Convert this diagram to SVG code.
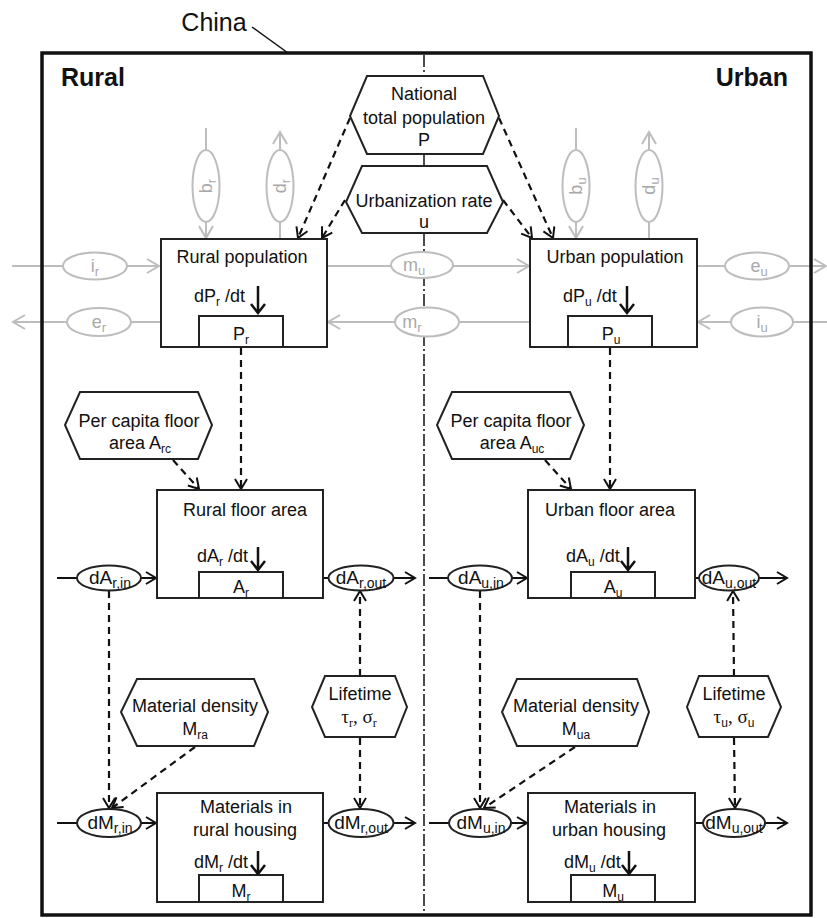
<svg xmlns="http://www.w3.org/2000/svg" width="827" height="918" viewBox="0 0 827 918">
<defs>
<marker id="ah" markerUnits="userSpaceOnUse" markerWidth="14" markerHeight="14" viewBox="0 0 14 14" refX="12" refY="7" orient="auto">
<path d="M2,1 L12,7 L2,13" fill="none" stroke="#111" stroke-width="2"/>
</marker>
<marker id="gah" markerUnits="userSpaceOnUse" markerWidth="16" markerHeight="16" viewBox="0 0 16 16" refX="14" refY="8" orient="auto">
<path d="M2,1 L14,8 L2,15" fill="none" stroke="#bdbdbd" stroke-width="2"/>
</marker>
<style>
.t{font-family:"Liberation Sans",Arial,sans-serif;font-size:18px;fill:#111}
.c{text-anchor:middle}
.s{font-size:12px}
.gk{font-family:"Liberation Serif","Times New Roman",serif;font-size:19px}
.box{fill:#fff;stroke:#222;stroke-width:2}
.hex{fill:#fff;stroke:#222;stroke-width:2}
.ell{fill:#fff;stroke:#222;stroke-width:2}
.gell{fill:#fff;stroke:#bdbdbd;stroke-width:2}
.gt{font-family:"Liberation Sans",Arial,sans-serif;font-size:18px;fill:#aaa;text-anchor:middle}
.gt .s{font-size:13px}
.dash{fill:none;stroke:#111;stroke-width:2.2;stroke-dasharray:7 5;marker-end:url(#ah)}
.flow{fill:none;stroke:#111;stroke-width:2;marker-end:url(#ah)}
.gflow{fill:none;stroke:#bdbdbd;stroke-width:2;marker-end:url(#gah)}
.dn{fill:none;stroke:#111;stroke-width:2.5}
.et{font-family:"Liberation Sans",Arial,sans-serif;font-size:19px;fill:#111;text-anchor:middle}
.es{font-size:14px}
</style>
</defs>
<rect width="827" height="918" fill="#fff"/>

<g id="connectors">
<!-- gray population flows -->
<line class="gflow" x1="12" y1="266" x2="159" y2="266"/>
<line class="gflow" x1="161" y1="322" x2="13" y2="322"/>
<line class="gflow" x1="327" y1="266" x2="529" y2="266"/>
<line class="gflow" x1="530" y1="322" x2="328" y2="322"/>
<line class="gflow" x1="697" y1="266" x2="826" y2="266"/>
<line class="gflow" x1="830" y1="322" x2="698" y2="322"/>
<line class="gflow" x1="206" y1="128" x2="206" y2="238"/>
<line class="gflow" x1="280" y1="239" x2="280" y2="132"/>
<line class="gflow" x1="576" y1="128" x2="576" y2="238"/>
<line class="gflow" x1="649" y1="239" x2="649" y2="132"/>
<!-- black material/floor flows -->
<line class="flow" x1="57" y1="578" x2="156" y2="578"/>
<line class="flow" x1="323" y1="578" x2="415" y2="578"/>
<line class="flow" x1="429" y1="578" x2="527" y2="578"/>
<line class="flow" x1="695" y1="578" x2="787" y2="578"/>
<line class="flow" x1="57" y1="823" x2="156" y2="823"/>
<line class="flow" x1="323" y1="823" x2="415" y2="823"/>
<line class="flow" x1="429" y1="823" x2="527" y2="823"/>
<line class="flow" x1="695" y1="823" x2="787" y2="823"/>
<!-- dashed information links -->
<line class="dash" x1="350" y1="118" x2="298" y2="238"/>
<line class="dash" x1="345" y1="200" x2="322" y2="238"/>
<line class="dash" x1="499" y1="118" x2="553" y2="238"/>
<line class="dash" x1="503" y1="200" x2="532" y2="238"/>
<line class="dash" x1="241" y1="348" x2="241" y2="489"/>
<line class="dash" x1="610" y1="348" x2="610" y2="489"/>
<line class="dash" x1="173" y1="460" x2="199" y2="489"/>
<line class="dash" x1="545" y1="460" x2="571" y2="489"/>
<line class="dash" x1="109" y1="591" x2="109" y2="808"/>
<line class="dash" x1="480" y1="591" x2="480" y2="808"/>
<line class="dash" x1="195" y1="747" x2="112" y2="808"/>
<line class="dash" x1="575" y1="747" x2="484" y2="808"/>
<line class="dash" x1="360" y1="676" x2="360" y2="591"/>
<line class="dash" x1="360" y1="738" x2="360" y2="808"/>
<line class="dash" x1="734" y1="676" x2="733" y2="591"/>
<line class="dash" x1="734" y1="738" x2="735" y2="808"/>
</g>

<g id="frame-china">
<rect x="42" y="53" width="769" height="862" fill="none" stroke="#111" stroke-width="3.5"/>
<line x1="252" y1="27" x2="288" y2="53" stroke="#111" stroke-width="1.5"/>
<text class="t c" x="214" y="31" style="font-size:25px">China</text>
</g>

<g id="divider">
<g stroke="#111" stroke-width="1.5" stroke-dasharray="12 3 2 3" fill="none">
<line x1="424" y1="55" x2="424" y2="76"/>
<line x1="424" y1="154" x2="424" y2="166"/>
<line x1="424" y1="234" x2="424" y2="913"/>
</g>
</g>

<g id="label-rural"><text class="t" x="61" y="86" style="font-size:25px;font-weight:bold">Rural</text></g>
<g id="label-urban"><text class="t" x="788" y="86" style="font-size:25px;font-weight:bold;text-anchor:end">Urban</text></g>

<g id="national-population">
<polygon class="hex" points="367,76 483,76 499,116 483,154 367,154 350,116"/>
<text class="t c" x="424" y="100">National</text>
<text class="t c" x="424" y="124">total population</text>
<text class="t c" x="424" y="146">P</text>
</g>
<g id="urbanization-rate">
<polygon class="hex" points="362,166 487,166 503,202 487,233 362,233 346,202"/>
<text class="t c" x="424" y="207">Urbanization rate</text>
<text class="t c" x="424" y="228">u</text>
</g>

<g id="rural-population">
<rect class="box" x="161" y="239" width="166" height="108"/>
<rect class="box" x="199" y="316" width="84" height="31"/>
<text class="t c" x="242" y="263">Rural population</text>
<text class="t" x="194" y="302">dP<tspan class="s" dy="4">r</tspan><tspan dy="-4"> /dt</tspan></text>
<path class="dn" d="M258,286 V313 M251,304 L258,313 L265,304"/>
<text class="t c" x="241" y="340">P<tspan class="s" dy="4">r</tspan></text>
</g>
<g id="urban-population">
<rect class="box" x="530" y="239" width="167" height="108"/>
<rect class="box" x="568" y="316" width="84" height="31"/>
<text class="t c" x="615" y="263">Urban population</text>
<text class="t" x="563" y="302">dP<tspan class="s" dy="4">u</tspan><tspan dy="-4"> /dt</tspan></text>
<path class="dn" d="M627,286 V313 M620,304 L627,313 L634,304"/>
<text class="t c" x="611" y="340">P<tspan class="s" dy="4">u</tspan></text>
</g>

<g id="flow-ir"><ellipse class="gell" cx="95" cy="266" rx="32" ry="13.5"/><text class="gt" x="95" y="272">i<tspan class="s" dy="4">r</tspan></text></g>
<g id="flow-er"><ellipse class="gell" cx="99" cy="322" rx="32" ry="14"/><text class="gt" x="99" y="328">e<tspan class="s" dy="4">r</tspan></text></g>
<g id="flow-mu"><ellipse class="gell" cx="422" cy="265" rx="31" ry="13"/><text class="gt" x="414" y="271">m<tspan class="s" dy="4">u</tspan></text></g>
<g id="flow-mr"><ellipse class="gell" cx="427" cy="322" rx="32" ry="14.5"/><text class="gt" x="412" y="328">m<tspan class="s" dy="4">r</tspan></text></g>
<g id="flow-eu"><ellipse class="gell" cx="757" cy="266" rx="32" ry="13.5"/><text class="gt" x="759" y="272">e<tspan class="s" dy="4">u</tspan></text></g>
<g id="flow-iu"><ellipse class="gell" cx="762" cy="322" rx="31" ry="14.5"/><text class="gt" x="762" y="328">i<tspan class="s" dy="4">u</tspan></text></g>
<g id="flow-br"><ellipse class="gell" cx="206" cy="186" rx="13.5" ry="36"/><text class="gt" transform="translate(206,186) rotate(-90)" x="0" y="6">b<tspan class="s" dy="4">r</tspan></text></g>
<g id="flow-dr"><ellipse class="gell" cx="280" cy="186" rx="13.5" ry="36"/><text class="gt" transform="translate(280,186) rotate(-90)" x="0" y="6">d<tspan class="s" dy="4">r</tspan></text></g>
<g id="flow-bu"><ellipse class="gell" cx="576" cy="186" rx="13.5" ry="36"/><text class="gt" transform="translate(576,186) rotate(-90)" x="0" y="6">b<tspan class="s" dy="4">u</tspan></text></g>
<g id="flow-du"><ellipse class="gell" cx="649" cy="186" rx="13.5" ry="36"/><text class="gt" transform="translate(649,186) rotate(-90)" x="0" y="6">d<tspan class="s" dy="4">u</tspan></text></g>

<g id="per-capita-rural">
<polygon class="hex" points="80,392 198,392 212,425 198,459 80,459 65,425"/>
<text class="t c" x="139" y="427">Per capita floor</text>
<text class="t c" x="140" y="449">area A<tspan class="s" dy="4">rc</tspan></text>
</g>
<g id="per-capita-urban">
<polygon class="hex" points="452,392 570,392 584,425 570,459 452,459 437,425"/>
<text class="t c" x="511" y="427">Per capita floor</text>
<text class="t c" x="512" y="449">area A<tspan class="s" dy="4">uc</tspan></text>
</g>

<g id="rural-floor-area">
<rect class="box" x="157" y="490" width="166" height="108"/>
<rect class="box" x="199" y="572" width="84" height="26"/>
<text class="t c" x="245" y="516">Rural floor area</text>
<text class="t" x="197" y="562">dA<tspan class="s" dy="4">r</tspan><tspan dy="-4"> /dt</tspan></text>
<path class="dn" d="M258,547 V570 M251,561 L258,570 L265,561"/>
<text class="t c" x="241" y="593">A<tspan class="s" dy="4">r</tspan></text>
</g>
<g id="urban-floor-area">
<rect class="box" x="528" y="490" width="167" height="108"/>
<rect class="box" x="571" y="572" width="84" height="26"/>
<text class="t c" x="610" y="516">Urban floor area</text>
<text class="t" x="566" y="562">dA<tspan class="s" dy="4">u</tspan><tspan dy="-4"> /dt</tspan></text>
<path class="dn" d="M628,547 V570 M621,561 L628,570 L635,561"/>
<text class="t c" x="613" y="593">A<tspan class="s" dy="4">u</tspan></text>
</g>

<g id="dA-r-in"><ellipse class="ell" cx="109" cy="578" rx="32" ry="12.5"/><text class="et" x="110" y="584">dA<tspan class="es" dy="4">r,in</tspan></text></g>
<g id="dA-r-out"><ellipse class="ell" cx="361" cy="578" rx="32.5" ry="12.5"/><text class="et" x="361" y="584">dA<tspan class="es" dy="4">r,out</tspan></text></g>
<g id="dA-u-in"><ellipse class="ell" cx="480" cy="578" rx="32" ry="12.5"/><text class="et" x="481" y="584">dA<tspan class="es" dy="4">u,in</tspan></text></g>
<g id="dA-u-out"><ellipse class="ell" cx="729" cy="578" rx="30" ry="12.5"/><text class="et" x="729" y="584">dA<tspan class="es" dy="4">u,out</tspan></text></g>

<g id="material-density-rural">
<polygon class="hex" points="137,679 254,679 268,712 254,746 137,746 121,712"/>
<text class="t c" x="195" y="712">Material density</text>
<text class="t c" x="195" y="735">M<tspan class="s" dy="4">ra</tspan></text>
</g>
<g id="material-density-urban">
<polygon class="hex" points="517,679 637,679 649,712 637,746 517,746 502,712"/>
<text class="t c" x="576" y="712">Material density</text>
<text class="t c" x="576" y="735">M<tspan class="s" dy="4">ua</tspan></text>
</g>
<g id="lifetime-rural">
<polygon class="hex" points="325,676 395,676 407,707 395,737 325,737 312,707"/>
<text class="t c" x="360" y="700">Lifetime</text>
<text class="t c gk" x="359" y="723">τ<tspan class="s" dy="4">r</tspan><tspan dy="-4">, σ</tspan><tspan class="s" dy="4">r</tspan></text>
</g>
<g id="lifetime-urban">
<polygon class="hex" points="699,676 768,676 781,707 768,737 699,737 687,707"/>
<text class="t c" x="734" y="700">Lifetime</text>
<text class="t c gk" x="734" y="723">τ<tspan class="s" dy="4" style="font-family:'Liberation Sans',Arial,sans-serif">u</tspan><tspan dy="-4">, σ</tspan><tspan class="s" dy="4" style="font-family:'Liberation Sans',Arial,sans-serif">u</tspan></text>
</g>

<g id="materials-rural">
<rect class="box" x="157" y="793" width="166" height="109"/>
<rect class="box" x="199" y="875" width="84" height="27"/>
<text class="t c" x="246" y="813">Materials in</text>
<text class="t c" x="245" y="836">rural housing</text>
<text class="t" x="194" y="868">dM<tspan class="s" dy="4">r</tspan><tspan dy="-4"> /dt</tspan></text>
<path class="dn" d="M258,851 V874 M251,865 L258,874 L265,865"/>
<text class="t c" x="241" y="897">M<tspan class="s" dy="4">r</tspan></text>
</g>
<g id="materials-urban">
<rect class="box" x="528" y="793" width="167" height="109"/>
<rect class="box" x="571" y="875" width="84" height="27"/>
<text class="t c" x="610" y="813">Materials in</text>
<text class="t c" x="609" y="836">urban housing</text>
<text class="t" x="564" y="868">dM<tspan class="s" dy="4">u</tspan><tspan dy="-4"> /dt</tspan></text>
<path class="dn" d="M629,851 V874 M622,865 L629,874 L636,865"/>
<text class="t c" x="613" y="897">M<tspan class="s" dy="4">u</tspan></text>
</g>

<g id="dM-r-in"><ellipse class="ell" cx="109" cy="823" rx="32" ry="14"/><text class="et" x="110" y="829">dM<tspan class="es" dy="4">r,in</tspan></text></g>
<g id="dM-r-out"><ellipse class="ell" cx="361" cy="823" rx="32.5" ry="14"/><text class="et" x="361" y="829">dM<tspan class="es" dy="4">r,out</tspan></text></g>
<g id="dM-u-in"><ellipse class="ell" cx="480" cy="823" rx="31" ry="14"/><text class="et" x="481" y="829">dM<tspan class="es" dy="4">u,in</tspan></text></g>
<g id="dM-u-out"><ellipse class="ell" cx="734" cy="823" rx="31" ry="14"/><text class="et" x="734" y="829">dM<tspan class="es" dy="4">u,out</tspan></text></g>
</svg>
